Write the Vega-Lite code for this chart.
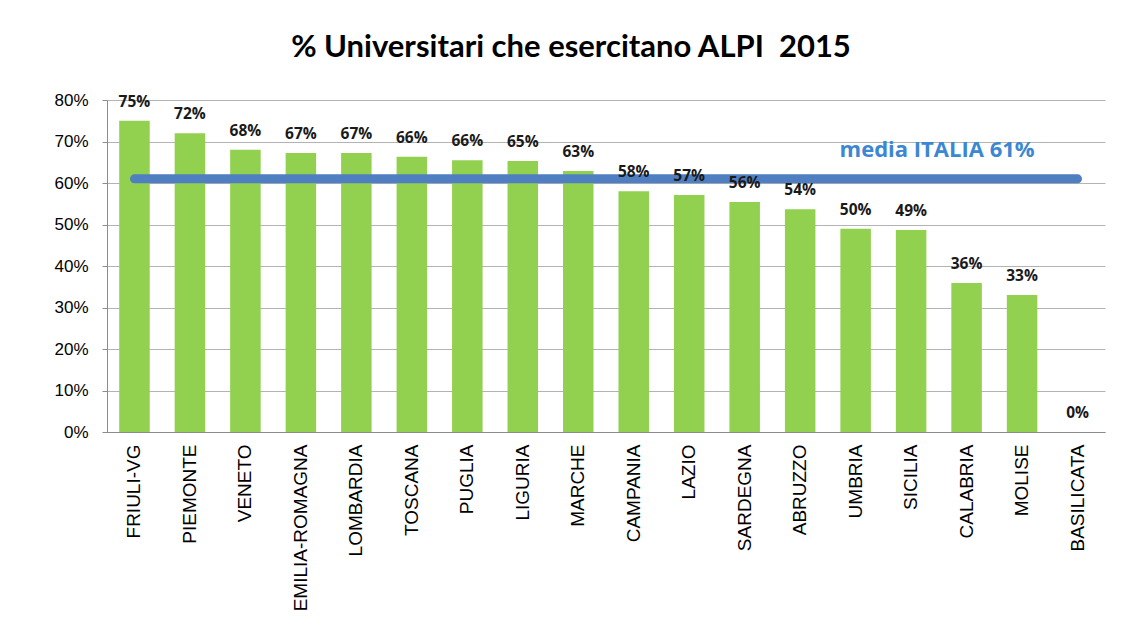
{
  "$schema": "https://vega.github.io/schema/vega-lite/v6.json",
  "width": 998,
  "height": 332,
  "autosize": {"type": "none"},
  "padding": {"left": 107, "top": 100, "right": 18, "bottom": 200},
  "background": "white",
  "title": {
    "text": "% Universitari che esercitano ALPI\u00a0 2015",
    "font": "Lato",
    "fontSize": 31,
    "fontWeight": "bold",
    "color": "#000000",
    "anchor": "middle",
    "dx": -35,
    "offset": 27
  },
  "config": {
    "view": {"stroke": null},
    "axis": {"domainColor": "#8c8c8c", "tickColor": "#8c8c8c", "gridColor": "#b3b3b3"}
  },
  "datasets": {
    "bars": [
      {"regione": "FRIULI-VG", "valore": 0.75, "etichetta": "75%"},
      {"regione": "PIEMONTE", "valore": 0.72, "etichetta": "72%"},
      {"regione": "VENETO", "valore": 0.68, "etichetta": "68%"},
      {"regione": "EMILIA-ROMAGNA", "valore": 0.672, "etichetta": "67%"},
      {"regione": "LOMBARDIA", "valore": 0.672, "etichetta": "67%"},
      {"regione": "TOSCANA", "valore": 0.663, "etichetta": "66%"},
      {"regione": "PUGLIA", "valore": 0.655, "etichetta": "66%"},
      {"regione": "LIGURIA", "valore": 0.653, "etichetta": "65%"},
      {"regione": "MARCHE", "valore": 0.629, "etichetta": "63%"},
      {"regione": "CAMPANIA", "valore": 0.58, "etichetta": "58%"},
      {"regione": "LAZIO", "valore": 0.571, "etichetta": "57%"},
      {"regione": "SARDEGNA", "valore": 0.554, "etichetta": "56%"},
      {"regione": "ABRUZZO", "valore": 0.537, "etichetta": "54%"},
      {"regione": "UMBRIA", "valore": 0.49, "etichetta": "50%"},
      {"regione": "SICILIA", "valore": 0.487, "etichetta": "49%"},
      {"regione": "CALABRIA", "valore": 0.359, "etichetta": "36%"},
      {"regione": "MOLISE", "valore": 0.33, "etichetta": "33%"},
      {"regione": "BASILICATA", "valore": 0, "etichetta": "0%"}
    ],
    "media": [
      {"regione": "FRIULI-VG", "valore": 0.61},
      {"regione": "BASILICATA", "valore": 0.61}
    ],
    "nota": [
      {"regione": "SICILIA", "valore": 0.68, "testo": "media ITALIA 61%"}
    ]
  },
  "encoding": {
    "x": {
      "field": "regione",
      "type": "nominal",
      "sort": null,
      "scale": {"paddingInner": 0.45, "paddingOuter": 0.22},
      "axis": {
        "title": null,
        "labelAngle": -90,
        "labelFont": "Liberation Sans",
        "labelFontSize": 19,
        "labelColor": "#000000",
        "labelPadding": 12,
        "ticks": false,
        "domainColor": "#8c8c8c"
      }
    },
    "y": {
      "field": "valore",
      "type": "quantitative",
      "scale": {"domain": [0, 0.8], "nice": false},
      "axis": {
        "title": null,
        "format": ".0%",
        "values": [0, 0.1, 0.2, 0.3, 0.4, 0.5, 0.6, 0.7, 0.8],
        "labelFont": "Liberation Sans",
        "labelFontSize": 17,
        "labelColor": "#000000",
        "labelPadding": 14,
        "tickSize": 5,
        "grid": true
      }
    }
  },
  "layer": [
    {
      "data": {"name": "bars"},
      "mark": {"type": "bar", "color": "#92D050"}
    },
    {
      "data": {"name": "media"},
      "mark": {"type": "line", "color": "#4F7FC0", "strokeWidth": 9, "strokeCap": "round"}
    },
    {
      "data": {"name": "bars"},
      "mark": {"type": "text", "font": "Open Sans", "fontSize": 15.5, "fontWeight": "bold", "color": "#1a1a1a", "baseline": "bottom", "dy": -11},
      "encoding": {"text": {"field": "etichetta"}}
    },
    {
      "data": {"name": "nota"},
      "mark": {"type": "text", "font": "Open Sans", "fontSize": 22, "fontWeight": "bold", "color": "#3C87D2", "baseline": "middle", "align": "center", "dx": 26},
      "encoding": {"text": {"field": "testo"}}
    }
  ]
}
